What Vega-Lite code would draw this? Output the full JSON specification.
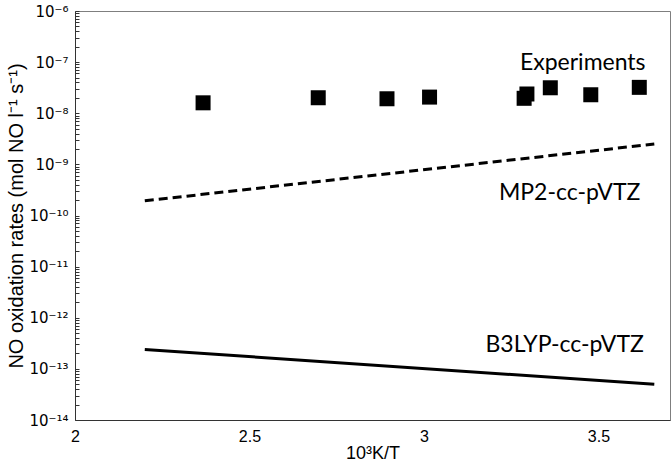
{
  "$schema": "https://vega.github.io/schema/vega-lite/v6.json",
  "width": 595,
  "height": 409,
  "autosize": "none",
  "padding": {"left": 75, "top": 11, "right": 2, "bottom": 44},
  "background": "white",
  "config": {
    "view": {"stroke": "#7f7f7f", "strokeWidth": 1},
    "font": "Liberation Sans",
    "axis": {"grid": false, "domainColor": "#333333", "tickColor": "#333333", "labelColor": "#000000", "titleColor": "#000000", "labelFont": "Liberation Sans", "titleFont": "Liberation Sans", "titleFontWeight": "normal"}
  },
  "datasets": {
    "experiments": [
      {"x": 2.367, "rate": 1.60e-8},
      {"x": 2.697, "rate": 2.01e-8},
      {"x": 2.894, "rate": 1.92e-8},
      {"x": 3.016, "rate": 2.07e-8},
      {"x": 3.287, "rate": 1.96e-8},
      {"x": 3.295, "rate": 2.38e-8},
      {"x": 3.362, "rate": 3.15e-8},
      {"x": 3.478, "rate": 2.30e-8},
      {"x": 3.617, "rate": 3.21e-8}
    ],
    "mp2": [
      {"x": 2.2, "rate": 1.94e-10},
      {"x": 3.66, "rate": 2.5e-9}
    ],
    "b3lyp": [
      {"x": 2.2, "rate": 2.4e-13},
      {"x": 3.66, "rate": 5.0e-14}
    ],
    "labels": [
      {"x": 3.635, "rate": 9.6e-8, "label": "Experiments"},
      {"x": 3.62, "rate": 2.75e-10, "label": "MP2-cc-pVTZ"},
      {"x": 3.63, "rate": 2.9e-13, "label": "B3LYP-cc-pVTZ"}
    ]
  },
  "encoding": {
    "x": {
      "field": "x", "type": "quantitative",
      "scale": {"domain": [2, 3.705], "nice": false, "zero": false},
      "axis": {"values": [2, 2.5, 3, 3.5], "labelExpr": "toString(datum.value)", "ticks": false, "domain": true, "labelFontSize": 16, "labelPadding": 8, "title": "10³K/T", "titleFontSize": 18, "titlePadding": 0, "labelFlush": false}
    },
    "y": {
      "field": "rate", "type": "quantitative",
      "scale": {"type": "log", "domain": [1e-14, 1e-6], "nice": false},
      "axis": {
        "values": [1e-14,2e-14,3e-14,4e-14,5e-14,6e-14,7e-14,8e-14,9e-14,1e-13,2e-13,3e-13,4e-13,5e-13,6e-13,7e-13,8e-13,9e-13,1e-12,2e-12,3e-12,4e-12,5e-12,6e-12,7e-12,8e-12,9e-12,1e-11,2e-11,3e-11,4e-11,5e-11,6e-11,7e-11,8e-11,9e-11,1e-10,2e-10,3e-10,4e-10,5e-10,6e-10,7e-10,8e-10,9e-10,1e-9,2e-9,3e-9,4e-9,5e-9,6e-9,7e-9,8e-9,9e-9,1e-8,2e-8,3e-8,4e-8,5e-8,6e-8,7e-8,8e-8,9e-8,1e-7,2e-7,3e-7,4e-7,5e-7,6e-7,7e-7,8e-7,9e-7,1e-6],
        "labelExpr": "abs(log(datum.value)/LN10 - round(log(datum.value)/LN10)) < 0.001 ? '10' + replace(replace(replace(replace(replace(replace(replace(replace(replace(replace(replace(toString(round(log(datum.value)/LN10)), '-', '⁻'), regexp('1','g'), '¹'), '0', '⁰'), '2', '²'), '3', '³'), '4', '⁴'), '5', '⁵'), '6', '⁶'), '7', '⁷'), '8', '⁸'), '9', '⁹') : ''",
        "labelOverlap": false,
        "labelBound": false,
        "labelFont": "DejaVu Sans",
        "labelFontSize": 15,
        "tickSize": -4,
        "labelPadding": 11,
        "title": "NO oxidation rates (mol NO l⁻¹ s⁻¹)",
        "titleFontSize": 20,
        "titlePadding": 2
      }
    }
  },
  "layer": [
    {
      "data": {"name": "mp2"},
      "mark": {"type": "line", "color": "black", "strokeWidth": 3, "strokeDash": [9, 5]}
    },
    {
      "data": {"name": "b3lyp"},
      "mark": {"type": "line", "color": "black", "strokeWidth": 3}
    },
    {
      "data": {"name": "experiments"},
      "mark": {"type": "point", "shape": "square", "filled": true, "color": "black", "size": 225, "opacity": 1}
    },
    {
      "data": {"name": "labels"},
      "mark": {"type": "text", "align": "right", "baseline": "middle", "font": "Lato", "fontSize": 23, "color": "black"},
      "encoding": {"text": {"field": "label"}}
    }
  ]
}
